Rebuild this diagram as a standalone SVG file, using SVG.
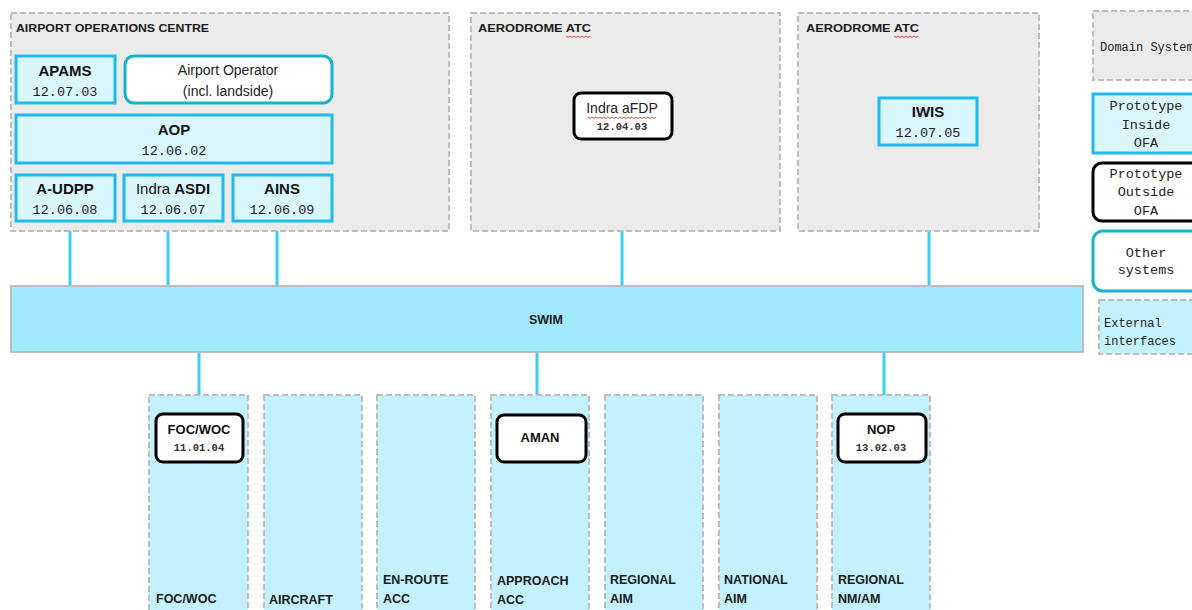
<svg xmlns="http://www.w3.org/2000/svg" width="1192" height="610" viewBox="0 0 1192 610">
<style>
.dom{fill:#ebebeb;stroke:#bdbdbd;stroke-width:2;stroke-dasharray:6 3}
.col{fill:#c3f1fd;stroke:#bdbdbd;stroke-width:2;stroke-dasharray:6 3}
.pin{fill:#dbf7fe;stroke:#1fbbed;stroke-width:3}
.pout{fill:#fff;stroke:#000;stroke-width:3}
.oth{fill:#fff;stroke:#17b3cc;stroke-width:3}
.swim{fill:#a1eafd;stroke:#bdbdbd;stroke-width:2}
.con{stroke:#3bcff2;stroke-width:3;fill:none}
.sq{stroke:#e02020;stroke-width:0.8;fill:none}
.hd{font-family:"Liberation Sans",Arial,sans-serif;font-weight:bold;font-size:11.5px;fill:#1a1a1a}
.nt{font-family:"Liberation Sans",Arial,sans-serif;font-weight:bold;font-size:15px;fill:#111;text-anchor:middle}
.ns{font-family:"Liberation Sans",Arial,sans-serif;font-weight:bold;font-size:13px;fill:#111;text-anchor:middle}
.rg{font-family:"Liberation Sans",Arial,sans-serif;font-size:14px;fill:#222;text-anchor:middle}
.num{font-family:"Liberation Mono","DejaVu Sans Mono",monospace;font-size:13.5px;fill:#222;text-anchor:middle}
.nums{font-family:"Liberation Mono","DejaVu Sans Mono",monospace;font-size:10.5px;font-weight:bold;fill:#333;text-anchor:middle}
.lg{font-family:"Liberation Mono","DejaVu Sans Mono",monospace;font-size:13.5px;fill:#222;text-anchor:middle}
.lgl{font-family:"Liberation Mono","DejaVu Sans Mono",monospace;font-size:12px;fill:#222}
.cl{font-family:"Liberation Sans",Arial,sans-serif;font-weight:bold;font-size:12.5px;fill:#1a1a1a}
</style>

<g id="connectors">
<line class="con" x1="70" y1="221" x2="70" y2="287"/>
<line class="con" x1="168" y1="221" x2="168" y2="287"/>
<line class="con" x1="277" y1="221" x2="277" y2="287"/>
<line class="con" x1="622" y1="139" x2="622" y2="287"/>
<line class="con" x1="929" y1="145" x2="929" y2="287"/>
<line class="con" x1="199" y1="351" x2="199" y2="414"/>
<line class="con" x1="537" y1="351" x2="537" y2="415"/>
<line class="con" x1="884" y1="351" x2="884" y2="414"/>
</g>

<g id="aoc">
<rect class="dom" x="11" y="13" width="438" height="218"/>
<text class="hd" x="16" y="32" textLength="193" lengthAdjust="spacingAndGlyphs">AIRPORT OPERATIONS CENTRE</text>
</g>
<g id="atc1">
<rect class="dom" x="471" y="13" width="309" height="218"/>
<text class="hd" x="478" y="32" textLength="113" lengthAdjust="spacingAndGlyphs">AERODROME ATC</text>
<path class="sq" d="M566 36 l2 1.5 l2 -1.5 l2 1.5 l2 -1.5 l2 1.5 l2 -1.5 l2 1.5 l2 -1.5 l2 1.5 l2 -1.5 l2 1.5 l2 -1.5"/>
</g>
<g id="atc2">
<rect class="dom" x="798" y="13" width="241" height="218"/>
<text class="hd" x="806" y="32" textLength="113" lengthAdjust="spacingAndGlyphs">AERODROME ATC</text>
<path class="sq" d="M894 36 l2 1.5 l2 -1.5 l2 1.5 l2 -1.5 l2 1.5 l2 -1.5 l2 1.5 l2 -1.5 l2 1.5 l2 -1.5 l2 1.5 l2 -1.5"/>
</g>

<g id="apams">
<rect class="pin" x="16" y="56" width="99" height="47"/>
<text class="nt" x="65" y="76">APAMS</text>
<text class="num" x="65" y="96">12.07.03</text>
</g>
<g id="airport-operator">
<rect class="oth" x="125" y="56" width="207" height="47" rx="9"/>
<text class="rg" x="228" y="75">Airport Operator</text>
<text class="rg" x="228" y="96">(incl. landside)</text>
</g>
<g id="aop">
<rect class="pin" x="16" y="115" width="316" height="48"/>
<text class="nt" x="174" y="135">AOP</text>
<text class="num" x="174" y="155">12.06.02</text>
</g>
<g id="a-udpp">
<rect class="pin" x="16" y="175" width="99" height="46"/>
<text class="nt" x="65" y="194">A-UDPP</text>
<text class="num" x="65" y="214">12.06.08</text>
</g>
<g id="asdi">
<rect class="pin" x="124" y="175" width="99" height="46"/>
<text class="nt" x="173" y="194"><tspan font-weight="normal">Indra </tspan>ASDI</text>
<text class="num" x="173" y="214">12.06.07</text>
</g>
<g id="ains">
<rect class="pin" x="233" y="175" width="99" height="46"/>
<text class="nt" x="282" y="194">AINS</text>
<text class="num" x="282" y="214">12.06.09</text>
</g>

<g id="afdp">
<rect class="pout" x="574" y="93" width="98" height="46" rx="7"/>
<text class="rg" x="622" y="113" font-size="14px">Indra aFDP</text>
<path class="sq" d="M588 117 l2 1.5 l2 -1.5 l2 1.5 l2 -1.5 l2 1.5 l2 -1.5 l2 1.5 l2 -1.5 l2 1.5 l2 -1.5 l2 1.5 l2 -1.5 l2 1.5 l2 -1.5 l2 1.5 l2 -1.5 l2 1.5 l2 -1.5 l2 1.5 l2 -1.5 l2 1.5 l2 -1.5 l2 1.5 l2 -1.5 l2 1.5 l2 -1.5 l2 1.5 l2 -1.5 l2 1.5 l2 -1.5 l2 1.5 l2 -1.5 l2 1.5 l2 -1.5"/>
<text class="nums" x="622" y="130">12.04.03</text>
</g>
<g id="iwis">
<rect class="pin" x="879" y="98" width="98" height="47"/>
<text class="nt" x="928" y="117">IWIS</text>
<text class="num" x="928" y="137">12.07.05</text>
</g>

<g id="swim">
<rect class="swim" x="11" y="286" width="1072" height="66"/>
<text class="cl" x="546" y="324" text-anchor="middle">SWIM</text>
</g>

<g id="col-focwoc">
<rect class="col" x="149" y="395" width="99" height="220"/>
<text class="cl" x="156" y="603">FOC/WOC</text>
</g>
<g id="col-aircraft">
<rect class="col" x="264" y="395" width="98" height="220"/>
<text class="cl" x="269" y="604">AIRCRAFT</text>
</g>
<g id="col-enroute">
<rect class="col" x="377" y="395" width="98" height="220"/>
<text class="cl" x="383" y="584">EN-ROUTE</text>
<text class="cl" x="383" y="603">ACC</text>
</g>
<g id="col-approach">
<rect class="col" x="491" y="395" width="98" height="220"/>
<text class="cl" x="497" y="585">APPROACH</text>
<text class="cl" x="497" y="604">ACC</text>
</g>
<g id="col-regaim">
<rect class="col" x="605" y="395" width="98" height="220"/>
<text class="cl" x="610" y="584">REGIONAL</text>
<text class="cl" x="610" y="603">AIM</text>
</g>
<g id="col-nataim">
<rect class="col" x="719" y="395" width="98" height="220"/>
<text class="cl" x="724" y="584">NATIONAL</text>
<text class="cl" x="724" y="603">AIM</text>
</g>
<g id="col-regnm">
<rect class="col" x="832" y="395" width="98" height="220"/>
<text class="cl" x="838" y="584">REGIONAL</text>
<text class="cl" x="838" y="603">NM/AM</text>
</g>

<g id="focwoc">
<rect class="pout" x="156" y="414" width="87" height="48" rx="7"/>
<text class="ns" x="199" y="434">FOC/WOC</text>
<text class="nums" x="199" y="451">11.01.04</text>
</g>
<g id="aman">
<rect class="pout" x="497" y="415" width="89" height="47" rx="7"/>
<text class="ns" x="540" y="442">AMAN</text>
</g>
<g id="nop">
<rect class="pout" x="838" y="414" width="88" height="48" rx="7"/>
<text class="ns" x="881" y="434">NOP</text>
<text class="nums" x="881" y="451">13.02.03</text>
</g>

<g id="legend-domain">
<rect class="dom" x="1093" y="11" width="115" height="69"/>
<text class="lgl" x="1100" y="51">Domain System</text>
</g>
<g id="legend-inside">
<rect class="pin" x="1093" y="94" width="115" height="59"/>
<text class="lg" x="1146" y="110">Prototype</text>
<text class="lg" x="1146" y="129">Inside</text>
<text class="lg" x="1146" y="147">OFA</text>
</g>
<g id="legend-outside">
<rect class="pout" x="1093" y="163" width="115" height="58" rx="9"/>
<text class="lg" x="1146" y="178">Prototype</text>
<text class="lg" x="1146" y="196">Outside</text>
<text class="lg" x="1146" y="215">OFA</text>
</g>
<g id="legend-other">
<rect class="oth" x="1093" y="231" width="115" height="60" rx="10"/>
<text class="lg" x="1146" y="257" font-size="12.5px">Other</text>
<text class="lg" x="1146" y="274" font-size="12.5px">systems</text>
</g>
<g id="legend-external">
<rect class="col" x="1099" y="300" width="110" height="54"/>
<text class="lgl" x="1104" y="327">External</text>
<text class="lgl" x="1104" y="345">interfaces</text>
</g>
</svg>
